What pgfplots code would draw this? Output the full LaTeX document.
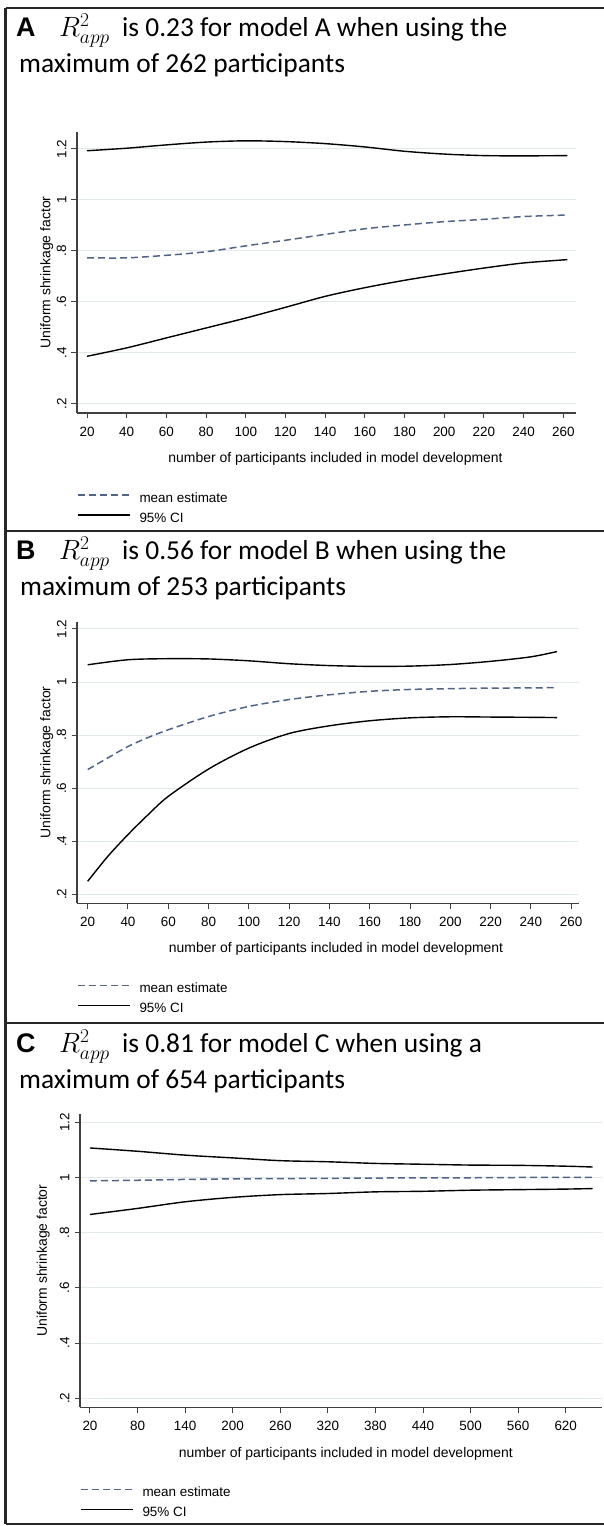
\RequirePackage{fix-cm}
\documentclass[border=0pt]{standalone}
\usepackage{fontspec}
\setmainfont{Liberation Sans}
\newfontfamily\calibri{Carlito}
\usepackage{pgfplots}
\pgfplotsset{compat=1.18}
\definecolor{meancol}{RGB}{82,100,134}
\definecolor{axiscol}{RGB}{64,64,64}
\definecolor{gridcol}{RGB}{225,233,237}
\newcommand{\tfont}{\calibri\fontsize{27.5}{30}\selectfont}
\newcommand{\Rapp}{{\fontsize{28}{28}\selectfont$R^{2}_{app}$}}
\newcommand{\Lett}[1]{{\fontsize{27}{27}\selectfont\bfseries #1}}
\newcommand{\labfont}{\fontsize{14}{16}\selectfont}

\pgfplotsset{
  stata/.style={
    scale only axis, anchor=south west,
    axis x line=bottom, axis y line=left,
    axis line style={-, draw=axiscol, line width=1.1bp},
    tick align=outside, major tick length=5.5bp,
    tick style={draw=axiscol, line width=1bp},
    ymajorgrids, major grid style={draw=gridcol, line width=1bp},
    ytick={0.2,0.4,0.6,0.8,1,1.2},
    yticklabels={.2,.4,.6,.8,1,1.2},
    xticklabel style={font=\fontsize{13.5}{16}\selectfont, anchor=north, inner sep=0pt, yshift=-8.4bp},
    yticklabel style={font=\fontsize{13.5}{16}\selectfont, xshift=-5bp, rotate=90, anchor=south, inner sep=0pt},
    /pgf/number format/assume math mode=true,
    xlabel={\labfont number of participants included in model development},
    ylabel={\labfont Uniform shrinkage factor},
    every axis x label/.style={at={(axis description cs:0.5,0)}, anchor=center, font=\labfont},
    every axis y label/.style={at={(axis description cs:0,0.5)}, anchor=center, font=\labfont},
    legend cell align=left,
    legend image code/.code={\draw[##1] (0bp,4bp) -- (52bp,4bp); \path (0bp,0bp);},
    legend style={draw=none, fill=none, at={(0,0)}, anchor=north west, inner sep=0pt, outer sep=0pt, row sep=7bp, column sep=9bp, yshift=-79.5bp, nodes={inner sep=0pt, text height=10bp, text depth=3bp, font=\fontsize{13.5}{16}\selectfont}},
    clip=false,
  },
  meanline/.style={meancol, line width=1.5bp, dash pattern=on 7bp off 4bp, smooth},
  ciline/.style={black, line width=1.4bp, smooth},
}

\begin{document}
\begin{tikzpicture}[x=1bp,y=1bp]
\path[use as bounding box] (0,0) rectangle (604,1526);

% ---------------- Panel A ----------------
\begin{axis}[stata, at={(77bp,1113bp)}, width=499bp, height=281bp,
  xmin=14.96, xmax=266.4, ymin=0.1647, ymax=1.2667,
  xtick={20,40,...,260},
  xlabel style={xshift=9bp, yshift=-46bp},
  ylabel style={xshift=-30.3bp, rotate=90}]
\addplot[meanline] coordinates {(20,0.773)(40,0.773)(60,0.783)(80,0.797)(100,0.82)(120,0.842)(140,0.865)(160,0.887)(180,0.902)(200,0.915)(220,0.924)(240,0.935)(262,0.941)};
\addlegendentry{mean estimate}
\addplot[ciline] coordinates {(20,1.193)(40,1.203)(60,1.216)(80,1.227)(100,1.232)(120,1.229)(140,1.221)(160,1.208)(180,1.191)(200,1.180)(220,1.174)(240,1.173)(262,1.174)};
\addlegendentry{95\% CI}
\addplot[ciline, forget plot] coordinates {(20,0.387)(40,0.42)(60,0.459)(80,0.498)(100,0.537)(120,0.579)(140,0.622)(160,0.656)(180,0.685)(200,0.71)(220,0.733)(240,0.753)(262,0.766)};
\end{axis}

% ---------------- Panel B ----------------
\begin{axis}[stata, at={(77bp,622.7bp)}, width=502bp, height=281.6bp,
  xmin=14.69, xmax=263.9, ymin=0.166, ymax=1.2275,
  xtick={20,40,...,260},
  xlabel style={xshift=8bp, yshift=-45.7bp},
  ylabel style={xshift=-30.3bp, rotate=90}]
\addplot[meanline] coordinates {(20,0.67)(30,0.714)(40,0.757)(50,0.791)(60,0.82)(80,0.87)(100,0.908)(120,0.934)(140,0.952)(160,0.965)(180,0.972)(200,0.975)(220,0.977)(240,0.978)(253,0.979)};
\addlegendentry{mean estimate}
\addplot[ciline] coordinates {(20,1.065)(40,1.084)(60,1.088)(80,1.087)(100,1.08)(120,1.069)(140,1.062)(160,1.059)(180,1.060)(200,1.066)(220,1.078)(240,1.095)(253,1.115)};
\addlegendentry{95\% CI}
\addplot[ciline, forget plot] coordinates {(20,0.249)(30,0.343)(40,0.425)(50,0.50)(60,0.569)(80,0.672)(100,0.751)(120,0.806)(140,0.835)(160,0.854)(180,0.865)(200,0.869)(220,0.868)(240,0.867)(253,0.866)};
\end{axis}

% ---------------- Panel C ----------------
\begin{axis}[stata, at={(80bp,118.7bp)}, width=521.7bp, height=293.3bp,
  xmin=7.39, xmax=665.4, ymin=0.1674, ymax=1.2301,
  xtick={20,80,...,620},
  xlabel style={xshift=5bp, yshift=-46.7bp},
  ylabel style={xshift=-36.7bp, rotate=90}]
\addplot[meanline] coordinates {(20,0.988)(80,0.99)(140,0.993)(200,0.995)(260,0.996)(320,0.997)(380,0.998)(440,0.999)(500,0.999)(560,1.0)(654,1.0)};
\addlegendentry{mean estimate}
\addplot[ciline] coordinates {(20,1.107)(80,1.095)(140,1.081)(200,1.071)(260,1.061)(320,1.057)(380,1.051)(440,1.048)(500,1.045)(560,1.044)(620,1.041)(654,1.038)};
\addlegendentry{95\% CI}
\addplot[ciline, forget plot] coordinates {(20,0.866)(80,0.888)(140,0.912)(200,0.928)(260,0.938)(320,0.942)(380,0.948)(440,0.95)(500,0.954)(560,0.956)(620,0.958)(654,0.96)};
\end{axis}

% ---------------- frames ----------------
\draw[line width=2bp, black!85] (5.5,1518) -- (604,1518);
\draw[line width=2.2bp, black!85] (5.5,1518) -- (5.5,2);
\draw[line width=2bp, black!85] (5.5,995) -- (604,995);
\draw[line width=2bp, black!85] (5.5,503) -- (604,503);
\draw[line width=2bp, black!85] (5.5,2) -- (604,2);

% ---------------- titles ----------------
\node[anchor=base west, inner sep=0] at (16,1489) {\Lett{A}};
\node[anchor=base west, inner sep=0] at (59,1489) {\Rapp};
\node[anchor=base west, inner sep=0] at (122,1489) {\tfont is 0.23 for model A when using the};
\node[anchor=base west, inner sep=0] at (19,1453) {\tfont maximum of 262 participants};

\node[anchor=base west, inner sep=0] at (16,966) {\Lett{B}};
\node[anchor=base west, inner sep=0] at (59,966) {\Rapp};
\node[anchor=base west, inner sep=0] at (122,966) {\tfont is 0.56 for model B when using the};
\node[anchor=base west, inner sep=0] at (20,930) {\tfont maximum of 253 participants};

\node[anchor=base west, inner sep=0] at (16,473) {\Lett{C}};
\node[anchor=base west, inner sep=0] at (59,473) {\Rapp};
\node[anchor=base west, inner sep=0] at (122,473) {\tfont is 0.81 for model C when using a};
\node[anchor=base west, inner sep=0] at (19,437) {\tfont maximum of 654 participants};
\end{tikzpicture}
\end{document}
